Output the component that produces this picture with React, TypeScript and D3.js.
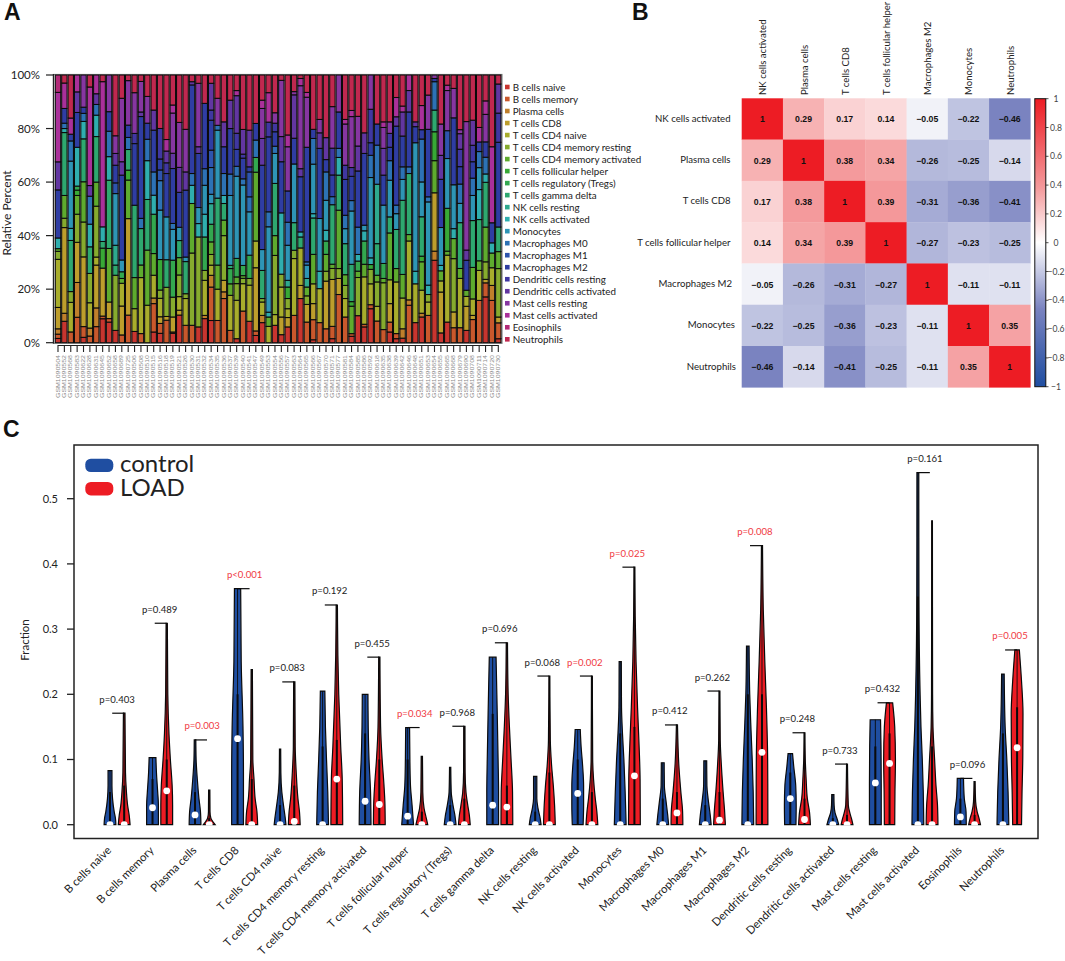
import * as d3 from "d3";

const FONT = "Lato, 'Noto Sans', sans-serif";

const cellTypes = [
  "B cells naive", "B cells memory", "Plasma cells", "T cells CD8", "T cells CD4 naive",
  "T cells CD4 memory resting", "T cells CD4 memory activated", "T cells follicular helper",
  "T cells regulatory (Tregs)", "T cells gamma delta", "NK cells resting", "NK cells activated",
  "Monocytes", "Macrophages M0", "Macrophages M1", "Macrophages M2", "Dendritic cells resting",
  "Dendritic cells activated", "Mast cells resting", "Mast cells activated", "Eosinophils", "Neutrophils",
];

const cellColors = [
  "#c8352f", "#c9582c", "#c07f2b", "#bd9e2c", "#a8ad2c", "#86ab2e", "#5eab2e", "#38a936", "#33a84f", "#2ea86f", "#2ea98e",
  "#2faeae", "#2e95b5", "#2d72b5", "#2e54ae", "#2f3da3", "#4037a1", "#6236a1", "#8636a1", "#aa309a", "#b32a78", "#c0284f",
];

const sampleIds = [
  504, 552, 568, 583, 622, 628, 631, 645, 652, 658, 689, 725, 506, 508, 510, 515, 516, 518, 519, 521, 526, 530, 531, 532,
  534, 535, 536, 537, 539, 540, 541, 547, 549, 553, 554, 556, 557, 563, 564, 565, 566, 567, 570, 571, 577, 581, 584, 585,
  586, 592, 618, 635, 638, 639, 642, 646, 648, 651, 653, 654, 655, 665, 668, 679, 690, 708, 711, 714, 720, 730,
].map((n) => `GSM1090${n}`);

// percent per cell type, one row per sample
const sampleFractions = [
  [1.6,1.6,2,8,18,3,1,0,0,0,0,4,0,0,0,18,0,10.5,0,26,6.5,0],
  [8,0,3,32,0,3.5,8.5,0,0,23.5,0,1.5,0,2,0,5.5,0,0,0,9.5,0,3],
  [0,4,0,0,11,4,0,0,0,19,0,4.5,25,7.5,0,2.5,0,0,0,6,0,16],
  [0,9.5,13,15,0,10.5,7,2,1.5,0,0,14.5,0,0,0,13,0,7.7,0,6.3,0,0],
  [2,4,0,26,0,13,15,0,0,16,0,6.5,0,3,0,2.3,0,0,12,0,0,0],
  [0,2.5,3,0,9.5,11,0,0,0,10,0,8.5,0,10.5,0,0,0,4,0,37,0,4.5],
  [0,6,7,16,3,19,9,0,0,17,0,8,0,4,0,0,0,4,0,7,0,0],
  [9,1,0,18,0,0,0,7.5,0,2.5,0,5.5,0,0,0,0,0,0,0,54.5,0,2.5],
  [7.7,1.3,0,6.2,0,0,20,0,0,25.5,0,8.8,0,9.5,0,7.3,0,0,13.7,0,0,0],
  [4.6,0,0,0,0,20.6,0,0,0,3.8,7.4,0,19.3,0,4,6.6,0,4.4,6.6,0,0,22.7],
  [0,2.9,0,10.8,8.5,0,1.8,0,2.5,0,0,0,4.4,0,0,31.7,0,5,23.7,0,0,8.7],
  [0,10.3,0,36,0,0,14.4,3.7,0,7.7,0,0,0,4.5,0,4.6,0,0,16.6,0,0,2.1],
  [4.2,0,0,0,8.5,0,11.6,0,0,27,0,0,0,0,0,23,3.8,0,15.2,0,0,6.6],
  [0,3.4,0,0,20.9,0,4.7,0,0,13.6,0,0,0,3.8,0,38,0,1.7,11.4,0,0,2.4],
  [0,0,0,0,14,0,20.6,0,0,18.9,0,14.5,0,8,0,6,0,0,10,0,0,8],
  [4,10.6,2.1,0,8.5,0,8.1,0,14.7,0,0,7.1,0,8.7,0,15.6,0,7.5,0,0,0,13.1],
  [3.5,3.7,0,2.5,6.9,3.1,0,11.4,0,0,0,0,18.5,11,4,4.1,11.4,0,0,0,0,20],
  [0,8.4,0,1.4,0,10.9,0,0,0,10.3,0,0,16,0,0,16.2,4,4.4,0,4.3,0,24.1],
  [3.5,0.5,0,5.6,0,7.4,0,0,13.8,0,0,0,11.5,2.2,0,20.5,0,5.7,15,3,0,11.2],
  [10.2,0,0,1.8,5,8,6.4,0,0,6.3,0,0,4.9,0,0,12.9,0,9.2,16.6,0,0,17.5],
  [0,6.5,0,0,10,1.8,0,0,0,12,0,0,1.7,0,0,25,0,6.8,15.9,0,0,20.3],
  [0,6.5,0,0,0,27,18.5,0,0,0,0,6.8,0,4.4,0,33.1,0,1.2,0,0,0,2.5],
  [5.9,0,0,0,0,33.6,0,0,0,0,0,5,6,0,0,20.2,0,2.5,23.7,0,0,3.1],
  [9,0,1.2,0,13.1,3.7,0,0,12.5,0,0,8.5,10.8,6.2,0,24.4,0,0,0,0,0,10.6],
  [8.3,12.5,4.4,0,3.8,4,4.7,0,6.6,0,7.7,0,3.5,10,6.5,11.2,3.8,10,0,0,0,3.1],
  [0,8.3,0,0,11.7,0,9,0,0,25,0,0,25.4,1.8,0,0,0,0,10.1,0,0,8.7],
  [0,16.5,2.5,4.3,0,16.7,5.8,0,0,6.2,0,3,0,8.2,0,10,0,9.3,0,0,0,17.5],
  [0,4.6,0,0,13.1,0,4.3,0,5.7,1.2,0,0,26.1,8,0,17,0,10.6,0,0,0,9.4],
  [1.5,0,0,0,14.3,6.2,2.5,0,6.9,0,0,0,30.6,3.7,0,6.3,6,14,0,1.9,0,5.8],
  [0,11.8,0,0,10.2,2,1,0,3.8,0,0,0,30,2.3,0,7.7,1.5,9.2,0,0,0,20.3],
  [8,0,0,0,13.5,2.5,0,0,8.7,0,0,0,16.2,5.6,9.3,1.9,0,13.7,0,0,0,20.6],
  [2.7,1.7,0,23.6,10,0,25.7,0,5.5,0,0,0,0,6.5,0,6.2,0,0,0,0,0,18.1],
  [7.5,0,2.7,0,5,1.3,0,0,0,10.5,0,0,7.8,0,0,31.5,0,10,11.2,3.1,0,9.4],
  [0,0,0,0,6.1,0,3.5,0,0,0,0,1.8,31.9,5.6,0,28,5.5,0,0,11,0,6.6],
  [6.5,0,0,0,4,22.1,7.4,0,0,19.5,0,0,11.2,2.7,0,5.4,3.2,0,3.9,0,0,14.1],
  [3,0,0,6.6,11.2,4.8,0,0,0,0,0,22.9,0,0,0,19.1,0,9.4,21,0,0,2],
  [5.9,0,0,3.5,3.3,3.8,0,4.3,0,0,2.5,0,13.1,8.6,0,11.7,0,0,16.5,4.4,0,22.4],
  [0,10.2,0,0,21.2,3.1,0,0,0,10.3,0,0,21.9,0,0,9.6,0,16.2,1.2,0,0,6.2],
  [16.5,0,0,4.9,14,0,0,0,0,4.1,0,1.9,0,0,0,20.6,0,3,31,2.7,0,1.3],
  [0,7.7,0,6.6,0,3.2,3.3,0,0,0,3.2,0,5,1.2,0,42.8,0,0,18.7,1.8,0,6.5],
  [1.1,7.5,0,6,7.4,0,11,0,0,13.6,0,1.6,18.5,9.6,0,3.4,0,0,0,0,0,20.3],
  [0,7.5,0,0,12.7,0,0,0,0,0,0,6.5,19.7,0,0,26.2,0,5.8,5,0,0,16.6],
  [0,5.2,0,17.8,0,3.7,6.3,0,5,0,0,4,11.2,10.6,0,4.6,0,8.2,0,0,0,23.4],
  [1.5,4.6,0,17.5,0,4.1,1.6,0,0,22.2,0,0,0,3,0,8.1,10,0,15.5,0,0,11.8],
  [0,18,0,6,0,3.7,21.8,0,0,13.1,0,6.6,0,3.4,0,13.6,0,0,13.8,0,0,0],
  [0,9.6,0,0,6.9,4.9,4,0,0,11.6,0,0,5.6,5,0,13.4,5.3,0,15.4,1.7,0,16.6],
  [2.4,1,0,0,0,0,10.3,1.7,0,14,0,0,20,3.9,0,9.1,3.3,0,19.1,2.3,0,13.3],
  [10.2,0,0,0,0,14.4,2.4,0,3.8,0,0,2.5,0,10.3,0,21.2,0,9.4,11.2,0,0,15.6],
  [5.9,1,0,0,17.7,0,4.7,0,8.7,0,0,3.8,2.1,0,0,26.8,0,7.7,0,0,0,21.6],
  [12.7,1.5,0,0,7.8,5.4,0,1.8,0,0,0,2.5,30,8.3,0,4.7,12.5,0,12.8,0,0,0],
  [0,8.1,0,0,5.5,9.1,2.5,0,0,11.8,22.2,0,0,14.6,0,7.9,0,0,0,0,0,18.3],
  [0,4.9,0,0,0,17.5,1.6,0,5.6,0,0,0,21.8,0,0,11.2,0,10,7.8,2.1,0,17.5],
  [4,3.7,0,6.9,8.9,0,17.5,0,0,6,0,0,13.7,7.3,0,5,5.2,0,4.3,0,0,17.5],
  [1.5,1.9,0,0,19.3,0,5,0,0,14.6,0,0,5.9,3.2,0,29.5,0,3.5,0,7.2,0,8.4],
  [1.7,0,3.5,0,11.5,0,8.8,0,0,27.7,0,0,7.8,4.7,0,11.5,0,9,0,2.2,0,11.6],
  [0,14,2,0,22,0,2.4,0,0,22.8,0,0,0,2.5,0,20.5,0,8,0,5.8,0,0],
  [7.5,0,0,0,14.5,0,0,0,0,0,0,4.7,48,0,0,6,0,1.8,0,0,0,17.5],
  [9.6,0,1.4,0,8.6,0,10.6,2.1,0,14.7,0,0,13,16,0,3.5,0,0,0,9,0,11.4],
  [0,10.2,0,0,5,2.8,0,0,0,0,0,3.5,31.1,1.9,0,25.2,0,0,12.8,0,0,7.5],
  [30.8,0,3.4,21.8,0,0,12,10.8,0,8.1,0,0,0,10.6,0,1.2,0,0,1.3,0,0,0],
  [3.6,0,0,15,4.1,0,3.7,0,0,0,0,2,13.9,0,0,17.7,0,8.8,11.5,0,0,18],
  [7.7,0,0,0,25,0,1.5,16,0,0,0,0,18.6,0,10.4,0,0,0,15,2,0,3.8],
  [0,5.6,0,5.9,0,19.9,7.5,0,0,0,0,3.7,16.4,0,0,25,0,0,11,0,0,5],
  [0,5.6,0,0,18.4,0,3.7,0,0,17.1,0,0,7.2,7.2,0,6.5,6.5,5.8,1.5,0,0,20.4],
  [4.6,0,0,9,3.7,0,2.3,0,0,0,0,0,0,0,0,11.2,0,3.8,48,0,0,17.4],
  [0,8.3,0,1.5,5.9,0,11.3,0,0,16.8,0,0,9,6.2,0,5.9,5.9,9,0,0,0,16.2],
  [0,15.8,0,0,11.2,0,3.6,0,0,15.4,0,11.2,8.2,6,0,3.6,0,0,0,5.4,0,19.6],
  [17,5.2,0,1.3,0,6.5,12.9,0,0,16.6,0,3.1,0,6.2,0,5.7,0,0,10.2,5,0,9.6],
  [0,15.8,5.6,0,6.6,0,5.5,0,0,0,0,3.8,0,0,0,7.5,0,0,0,28.4,0,26.8],
  [1.5,6,0,2.2,0,18.3,6.4,0,0,9.3,0,0,0,0,0,32,11,11,0,0,0,3.4],
];

const corrLabels = ["NK cells activated", "Plasma cells", "T cells CD8", "T cells follicular helper", "Macrophages M2", "Monocytes", "Neutrophils"];
const corrMatrix = [
  [1, 0.29, 0.17, 0.14, -0.05, -0.22, -0.46],
  [0.29, 1, 0.38, 0.34, -0.26, -0.25, -0.14],
  [0.17, 0.38, 1, 0.39, -0.31, -0.36, -0.41],
  [0.14, 0.34, 0.39, 1, -0.27, -0.23, -0.25],
  [-0.05, -0.26, -0.31, -0.27, 1, -0.11, -0.11],
  [-0.22, -0.25, -0.36, -0.23, -0.11, 1, 0.35],
  [-0.46, -0.14, -0.41, -0.25, -0.11, 0.35, 1],
];
const corrTicks = [1, 0.8, 0.6, 0.4, 0.2, 0, -0.2, -0.4, -0.6, -0.8, -1];

const pValues = [
  "p=0.403", "p=0.489", "p=0.003", "p<0.001", "p=0.083", "p=0.192", "p=0.455", "p=0.034", "p=0.968", "p=0.696", "p=0.068",
  "p=0.002", "p=0.025", "p=0.412", "p=0.262", "p=0.008", "p=0.248", "p=0.733", "p=0.432", "p=0.161", "p=0.096", "p=0.005",
];
const significant = [2, 3, 7, 11, 12, 15, 21];

const controlMedian = [0, 0.026, 0.015, 0.132, 0, 0, 0.036, 0.013, 0, 0.03, 0, 0.048, 0, 0, 0, 0, 0.04, 0, 0.064, 0, 0.012, 0];
const loadMedian = [0, 0.052, 0, 0, 0.005, 0.07, 0.031, 0, 0, 0.027, 0, 0, 0.075, 0.018, 0.007, 0.111, 0.008, 0, 0.094, 0, 0, 0.118];
const controlQ3 = [0.05, 0.07, 0.05, 0.2, 0.03, 0.12, 0.14, 0.1, 0.03, 0.17, 0.02, 0.1, 0.14, 0.04, 0.03, 0.2, 0.08, 0.01, 0.12, 0.35, 0.04, 0.14];
const loadQ3 = [0.06, 0.1, 0.01, 0.07, 0.06, 0.13, 0.1, 0.02, 0.04, 0.06, 0.08, 0.05, 0.15, 0.05, 0.05, 0.2, 0.04, 0.015, 0.14, 0.12, 0.015, 0.18];

// [value, relative density]; the last value of each list is the violin's top
const controlDensity = [
  [[0,1],[.01,.9],[.02,.65],[.04,.35],[.06,.25],[.083,.25]],
  [[0,1],[.03,1],[.05,.85],[.08,.6],[.103,.5]],
  [[0,1],[.02,.9],[.04,.6],[.07,.3],[.1,.12],[.13,.08]],
  [[0,1],[.08,1],[.15,.9],[.25,.55],[.362,.45]],
  [[0,1],[.01,.85],[.03,.5],[.05,.22],[.08,.08],[.116,.06]],
  [[0,1],[.05,.85],[.1,.6],[.15,.4],[.205,.3]],
  [[0,1],[.05,.9],[.1,.6],[.15,.45],[.2,.4]],
  [[0,1],[.03,.7],[.06,.4],[.1,.3],[.149,.25]],
  [[0,1],[.015,.75],[.03,.4],[.05,.12],[.088,.06]],
  [[0,1],[.05,1],[.1,.9],[.2,.65],[.257,.5]],
  [[0,1],[.01,.8],[.025,.4],[.04,.2],[.074,.2]],
  [[0,.9],[.03,1],[.06,1],[.09,.8],[.12,.5],[.146,.35]],
  [[0,1],[.05,.8],[.1,.55],[.14,.3],[.18,.15],[.25,.12]],
  [[0,1],[.015,.8],[.035,.5],[.06,.2],[.095,.17]],
  [[0,1],[.015,.8],[.04,.4],[.06,.2],[.098,.17]],
  [[0,1],[.05,.9],[.1,.7],[.15,.45],[.2,.25],[.274,.15]],
  [[0,.95],[.03,1],[.06,.9],[.09,.5],[.109,.3]],
  [[0,1],[.008,.7],[.018,.3],[.03,.15],[.046,.12]],
  [[0,1],[.06,1],[.12,.95],[.161,.85]],
  [[0,1],[.05,.9],[.1,.7],[.15,.45],[.2,.3],[.35,.12],[.54,.1]],
  [[0,1],[.02,.95],[.04,.6],[.071,.45]],
  [[0,1],[.05,.85],[.1,.6],[.15,.3],[.231,.15]],
];
const loadDensity = [
  [[0,1],[.015,.8],[.03,.5],[.05,.3],[.08,.15],[.171,.08]],
  [[0,1],[.03,1],[.06,.9],[.1,.55],[.14,.3],[.2,.12],[.309,.06]],
  [[0,1],[.004,.6],[.01,.2],[.02,.08],[.053,.06]],
  [[0,1],[.02,.85],[.04,.5],[.07,.3],[.1,.12],[.238,.06]],
  [[0,1],[.02,.85],[.04,.55],[.08,.25],[.12,.1],[.219,.06]],
  [[0,1],[.07,.9],[.12,.6],[.2,.25],[.26,.12],[.337,.06]],
  [[0,1],[.03,.95],[.06,.75],[.1,.4],[.15,.15],[.257,.06]],
  [[0,1],[.01,.7],[.025,.3],[.05,.1],[.105,.06]],
  [[0,1],[.015,.8],[.03,.5],[.05,.2],[.08,.08],[.151,.06]],
  [[0,1],[.05,.95],[.1,.65],[.15,.35],[.2,.15],[.279,.06]],
  [[0,1],[.03,.85],[.06,.6],[.09,.3],[.13,.1],[.228,.04]],
  [[0,1],[.02,.8],[.04,.5],[.07,.2],[.1,.08],[.228,.04]],
  [[0,1],[.07,.95],[.13,.7],[.18,.45],[.25,.2],[.32,.08],[.395,.04]],
  [[0,1],[.02,.95],[.05,.6],[.09,.25],[.153,.05]],
  [[0,1],[.02,.85],[.05,.55],[.09,.25],[.13,.08],[.205,.04]],
  [[0,1],[.1,.95],[.18,.7],[.25,.4],[.33,.15],[.428,.05]],
  [[0,1],[.02,.8],[.04,.4],[.07,.2],[.1,.08],[.141,.04]],
  [[0,1],[.008,.75],[.018,.4],[.03,.15],[.093,.04]],
  [[0,.85],[.05,.9],[.1,1],[.15,.85],[.187,.45]],
  [[0,1],[.03,.9],[.06,.6],[.1,.35],[.15,.1],[.2,.05],[.466,.03]],
  [[0,1],[.01,.7],[.02,.35],[.035,.12],[.066,.05]],
  [[0,.7],[.05,.8],[.1,.95],[.17,1],[.22,.7],[.268,.3]],
];

const BLUE = "#1f4ea1";
const RED = "#ed1c24";

const StackedBars = () => {
  const rows = sampleFractions.map((r) => Object.fromEntries(r.map((v, i) => [cellTypes[i], v])));
  const layers = d3.stack<Record<string, number>>().keys(cellTypes).offset(d3.stackOffsetExpand)(rows);
  const x = d3.scaleBand().domain(sampleIds).range([54.8, 501.5]);
  const y = d3.scaleLinear().domain([0, 1]).range([342.7, 75]);
  const barW = x.bandwidth() - 1;
  return (
    <g fontFamily={FONT}>
      <rect x={53.5} y={74.5} width={448.5} height={268.8} fill="none" stroke="#888" strokeWidth={1.2} />
      {layers.map((layer, i) => (
        <g key={layer.key} fill={cellColors[i]} stroke="#0a0a0a" strokeWidth={1.05}>
          {layer.map((d, j) =>
            d[1] - d[0] > 0 ? (
              <rect key={j} x={x(sampleIds[j])! + 0.5} y={y(d[1])} width={barW} height={y(d[0]) - y(d[1])} />
            ) : null
          )}
        </g>
      ))}
      <line x1={53.5} x2={53.5} y1={74} y2={343.5} stroke="#222" strokeWidth={1.3} />
      {y.ticks(5).map((t) => (
        <g key={t} transform={`translate(0,${y(t)})`}>
          <line x1={46} x2={53.5} stroke="#222" strokeWidth={1.2} />
          <text x={40} dy="0.36em" textAnchor="end" fontSize={11.5} fill="#222">{d3.format(".0%")(t)}</text>
        </g>
      ))}
      <text transform="translate(11,213) rotate(-90)" textAnchor="middle" fontSize={12} fill="#222">Relative Percent</text>
      <line x1={x(sampleIds[0])! + x.bandwidth() / 2} x2={x(sampleIds[69])! + x.bandwidth() / 2} y1={345.5} y2={345.5} stroke="#222" strokeWidth={1.1} />
      {sampleIds.map((id) => {
        const cx = x(id)! + x.bandwidth() / 2;
        return (
          <g key={id}>
            <line x1={cx} x2={cx} y1={345} y2={352} stroke="#222" strokeWidth={1.1} />
            <text transform={`translate(${cx + 1.6},398) rotate(-90)`} fontSize={4.6} textLength={43} lengthAdjust="spacingAndGlyphs" fill="#8a8a8a" fontFamily="'Liberation Sans', sans-serif">{id}</text>
          </g>
        );
      })}
      {cellTypes.map((name, i) => {
        const rowY = d3.scaleLinear().domain([0, cellTypes.length - 1]).range([87, 339.3])(i);
        return (
          <g key={name} transform={`translate(0,${rowY})`}>
            <rect x={505} y={-2.3} width={4.6} height={4.6} fill={cellColors[i]} />
            <text x={512.7} dy="0.36em" fontSize={9.8} fill="#222">{name}</text>
          </g>
        );
      })}
    </g>
  );
};

const CorrHeatmap = () => {
  const x = d3.scaleBand().domain(corrLabels).range([741.7, 1030.3]);
  const y = d3.scaleBand().domain(corrLabels).range([98.3, 387.3]);
  const color = d3.scaleLinear<string>().domain([-1, -0.46, 0, 0.38, 1]).range([BLUE, "#7a83c0", "#ffffff", "#f49a9c", RED]);
  const barY = d3.scaleLinear().domain([1, -1]).range([98.7, 386.7]);
  const rowLabelEnd = [730.5, 730.5, 730.5, 730.5, 732, 735, 736];
  return (
    <g>
      <g fontFamily={FONT} fontSize={9.6} fill="#222">
        {corrLabels.map((name, i) => (
          <g key={name}>
            <text transform={`translate(${x(name)! + x.bandwidth() / 2 + 0.5},95) rotate(-90)`} dy="0.36em">{name}</text>
            <text x={rowLabelEnd[i]} y={y(name)! + y.bandwidth() / 2 - 0.6} dy="0.36em" textAnchor="end">{name}</text>
          </g>
        ))}
      </g>
      {corrMatrix.map((row, r) =>
        row.map((v, c) => (
          <g key={`${r}-${c}`}>
            <rect x={x(corrLabels[c])} y={y(corrLabels[r])} width={x.bandwidth() + 0.3} height={y.bandwidth() + 0.3} fill={color(v)} />
            <text
              x={x(corrLabels[c])! + x.bandwidth() / 2}
              y={y(corrLabels[r])! + y.bandwidth() / 2 + 0.3}
              dy="0.36em"
              textAnchor="middle"
              fontFamily="'Liberation Sans', sans-serif"
              fontWeight="bold"
              fontSize={8.7}
              fill="#111"
            >
              {v === 1 ? "1" : d3.format(".2f")(v)}
            </text>
          </g>
        ))
      )}
      <defs>
        <linearGradient id="corrBar" x1="0" x2="0" y1="0" y2="1">
          {color.domain().slice().reverse().map((v) => (
            <stop key={v} offset={(1 - v) / 2} stopColor={color(v)} />
          ))}
        </linearGradient>
      </defs>
      <rect x={1034.8} y={barY(1)} width={11} height={barY(-1) - barY(1)} fill="url(#corrBar)" stroke="#111" strokeWidth={1} />
      {corrTicks.map((t) => (
        <g key={t} transform={`translate(0,${barY(t)})`}>
          <line x1={1045.8} x2={1048.5} stroke="#222" strokeWidth={0.8} />
          <text x={1056} dy="0.36em" textAnchor="middle" fontFamily={FONT} fontSize={8.6} fill="#444">
            {t === 1 || t === -1 || t === 0 ? d3.format("d")(t) : d3.format(".1f")(t)}
          </text>
        </g>
      ))}
    </g>
  );
};

const ViolinPanel = () => {
  const x = d3.scalePoint().domain(cellTypes).range([117.1, 1010]);
  const group = d3.scalePoint().domain(["control", "LOAD"]).range([-7.1, 7.1]);
  const y = d3.scaleLinear().domain([0, 0.5]).range([824.7, 498.7]);
  const halfWidth = d3.scalePow().exponent(0.8).domain([0, 1]).range([0, 5.9]);

  const violin = (cx: number, density: number[][]) =>
    d3
      .area<number[]>()
      .y((d) => y(d[0]))
      .x0((d) => cx - halfWidth(d[1]))
      .x1((d) => cx + halfWidth(d[1]))
      .curve(d3.curveMonotoneY)(density)!;

  const drawGroup = (name: string, fill: string, density: number[][][], q3: number[], median: number[]) =>
    cellTypes.map((cell, i) => {
      const cx = x(cell)! + group(name)!;
      const top = density[i][density[i].length - 1][0];
      return (
        <g key={`${name}-${cell}`}>
          <path d={violin(cx, density[i])} fill={fill} stroke="#0a0a0a" strokeWidth={1.2} strokeLinejoin="miter" />
          <line x1={cx} x2={cx} y1={y(0)} y2={y(top)} stroke="#0a0a0a" strokeWidth={0.9} />
          <line x1={cx} x2={cx} y1={y(0)} y2={y(q3[i])} stroke="#0a0a0a" strokeWidth={2} />
          <circle cx={cx} cy={y(median[i])} r={3.4} fill="#fff" clipPath="url(#violinClip)" />
        </g>
      );
    });

  return (
    <g>
      <defs>
        <clipPath id="violinClip">
          <rect x={74} y={445} width={964} height={380.4} />
        </clipPath>
      </defs>
      <rect x={74} y={445} width={964} height={393.5} fill="none" stroke="#222" strokeWidth={1.5} />
      {y.ticks(5).map((t) => (
        <g key={t} transform={`translate(0,${y(t)})`}>
          <line x1={67} x2={74} stroke="#222" strokeWidth={1.3} />
          <text x={58} dy="0.36em" textAnchor="end" fontFamily={FONT} fontSize={11} fill="#222">{d3.format(".1f")(t)}</text>
        </g>
      ))}
      <text transform="translate(29,640) rotate(-90)" textAnchor="middle" fontFamily={FONT} fontSize={11.5} fill="#222">Fraction</text>
      {drawGroup("control", BLUE, controlDensity, controlQ3, controlMedian)}
      {drawGroup("LOAD", RED, loadDensity, loadQ3, loadMedian)}
      {cellTypes.map((cell, i) => {
        const cTop = controlDensity[i][controlDensity[i].length - 1][0];
        const lTop = loadDensity[i][loadDensity[i].length - 1][0];
        const top = Math.max(cTop, lTop);
        const onControl = cTop > lTop;
        const from = x(cell)! + group(onControl ? "control" : "LOAD")!;
        return (
          <g key={cell}>
            <line x1={from} x2={from + (onControl ? 12 : -12)} y1={y(top)} y2={y(top)} stroke="#0a0a0a" strokeWidth={1.2} />
            <text x={x(cell)} y={y(top) - 10.5} textAnchor="middle" fontFamily={FONT} fontSize={9.6} fill={significant.includes(i) ? "#f03a3f" : "#222"}>
              {pValues[i]}
            </text>
            <text transform={`translate(${x(cell)! - 5},851) rotate(-45)`} textAnchor="end" fontFamily={FONT} fontSize={11.3} fill="#222">{cell}</text>
          </g>
        );
      })}
      <rect x={85.3} y={458.7} width={28} height={13.4} rx={5.5} fill={BLUE} />
      <rect x={85.3} y={482} width={28} height={13.4} rx={5.5} fill={RED} />
      <text x={120} y={471.5} fontFamily={FONT} fontSize={24} fill="#222">control</text>
      <text x={120} y={496} fontFamily={FONT} fontSize={24} fill="#222">LOAD</text>
    </g>
  );
};

export default function App() {
  return (
    <svg width={1065} height={961} style={{ position: "absolute", left: 0, top: 0, background: "#fff" }}>
      <g fontFamily="'Liberation Sans', sans-serif" fontWeight="bold" fontSize={23} fill="#111">
        <text x={4} y={20}>A</text>
        <text x={632} y={20}>B</text>
        <text x={3} y={437}>C</text>
      </g>
      <StackedBars />
      <CorrHeatmap />
      <ViolinPanel />
    </svg>
  );
}
